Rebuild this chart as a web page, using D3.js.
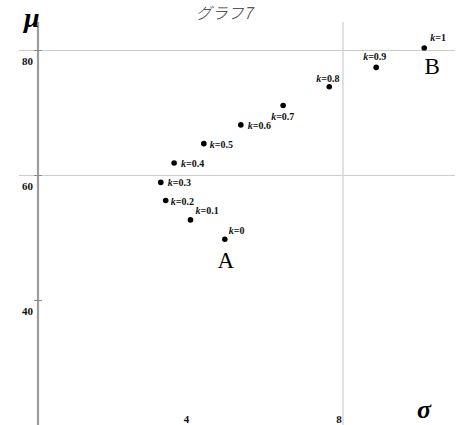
<!DOCTYPE html>
<html>
<head>
<meta charset="utf-8">
<script src="https://cdn.jsdelivr.net/npm/d3@7/dist/d3.min.js"></script>
<style>
  html, body { margin: 0; padding: 0; background: #fff; overflow: hidden; }
  svg { display: block; }
</style>
</head>
<body>
<svg id="chart" width="465" height="425"></svg>
<script>
// Portfolio frontier: expected return (mu) against risk (sigma) for weights k
const kValues = [0, 0.1, 0.2, 0.3, 0.4, 0.5, 0.6, 0.7, 0.8, 0.9, 1];
const sigma   = [4.90, 4.00, 3.35, 3.22, 3.57, 4.35, 5.32, 6.43, 7.64, 8.87, 10.13];
const mu      = [49.8, 52.9, 56.0, 58.9, 62.0, 65.1, 68.1, 71.2, 74.2, 77.3, 80.4];
const muTicks    = [40, 60, 80];
const muGrid     = [60, 80];
const sigmaTicks = [4, 8];
const sigmaGrid  = [8];
const endpoints  = [{ k: 0, name: "A" }, { k: 1, name: "B" }];
const title = "グラフ7";

// Where each k-label sits relative to its point
const labelOffset = {
  0:   [4, -5],  0.1: [5, -6],  0.2: [5, 4],  0.3: [7, 4],
  0.4: [7, 4],   0.5: [6, 4],   0.6: [7, 4],  0.7: [-12, 14],
  0.8: [-13, -5], 0.9: [-13, -7], 1: [6, -7]
};
const endpointOffset = { A: [1, 29], B: [8, 26] };

const svg = d3.select("#chart");
const x = d3.scaleLinear().domain([0, 8]).range([38, 343]);
const y = d3.scaleLinear().domain([40, 80]).range([300.5, 50.5]);

const serif = "'Liberation Serif', 'DejaVu Serif', serif";

// Grid lines
svg.selectAll("line.hgrid").data(muGrid).join("line")
  .attr("x1", 19).attr("x2", 455)
  .attr("y1", d => y(d)).attr("y2", d => y(d))
  .attr("stroke", "#cdcdcd").attr("stroke-width", 1.2);

svg.selectAll("line.vgrid").data(sigmaGrid).join("line")
  .attr("x1", d => x(d)).attr("x2", d => x(d))
  .attr("y1", 22).attr("y2", 425)
  .attr("stroke", "#cdcdcd").attr("stroke-width", 1.2);

// Vertical (mu) axis
svg.append("line")
  .attr("x1", x(0)).attr("x2", x(0))
  .attr("y1", 22).attr("y2", 425)
  .attr("stroke", "#9c9c9c").attr("stroke-width", 2.2);

svg.selectAll("line.ytick").data(muTicks).join("line")
  .attr("x1", x(0) - 4).attr("x2", x(0) + 4)
  .attr("y1", d => y(d)).attr("y2", d => y(d))
  .attr("stroke", "#8a8a8a").attr("stroke-width", 1);

// Tick labels
svg.selectAll("text.ylab").data(muTicks).join("text")
  .attr("x", x(0) - 5).attr("y", d => y(d) + 14)
  .attr("text-anchor", "end")
  .attr("font-family", serif).attr("font-weight", "bold").attr("font-size", 11)
  .attr("fill", "#111")
  .text(d => d);

svg.selectAll("text.xlab").data(sigmaTicks).join("text")
  .attr("x", d => x(d) - 4).attr("y", 423)
  .attr("text-anchor", "middle")
  .attr("font-family", serif).attr("font-weight", "bold").attr("font-size", 11)
  .attr("fill", "#111")
  .text(d => d);

// Axis names
svg.append("text")
  .attr("x", 24).attr("y", 27)
  .attr("font-family", serif).attr("font-weight", "bold").attr("font-style", "italic")
  .attr("font-size", 28).attr("fill", "#000")
  .text("μ");

svg.append("text")
  .attr("x", 417).attr("y", 418)
  .attr("font-family", serif).attr("font-weight", "bold").attr("font-style", "italic")
  .attr("font-size", 26).attr("fill", "#000")
  .text("σ");

// Title along the top edge
svg.append("text")
  .attr("x", 224).attr("y", 19)
  .attr("text-anchor", "middle")
  .attr("font-family", "'Noto Sans CJK JP', sans-serif").attr("font-weight", 300)
  .attr("font-style", "italic")
  .attr("font-size", 16).attr("fill", "#333")
  .text(title);

// Points
const pts = kValues.map((k, i) => ({ k, s: sigma[i], m: mu[i] }));

svg.selectAll("circle.pt").data(pts).join("circle")
  .attr("cx", d => x(d.s)).attr("cy", d => y(d.m))
  .attr("r", 2.8).attr("fill", "#000");

// k labels
const lab = svg.selectAll("text.klab").data(pts).join("text")
  .attr("x", d => x(d.s) + labelOffset[d.k][0])
  .attr("y", d => y(d.m) + labelOffset[d.k][1])
  .attr("font-family", serif).attr("font-weight", "bold").attr("font-size", 10)
  .attr("fill", "#111");
lab.append("tspan").attr("font-style", "italic").text("k");
lab.append("tspan").text(d => "=" + d.k);

// Endpoint names
svg.selectAll("text.end").data(endpoints).join("text")
  .attr("x", d => { const i = kValues.indexOf(d.k); return x(sigma[i]) + endpointOffset[d.name][0]; })
  .attr("y", d => { const i = kValues.indexOf(d.k); return y(mu[i]) + endpointOffset[d.name][1]; })
  .attr("text-anchor", "middle")
  .attr("font-family", serif).attr("font-size", 23).attr("fill", "#000")
  .text(d => d.name);
</script>
</body>
</html>
